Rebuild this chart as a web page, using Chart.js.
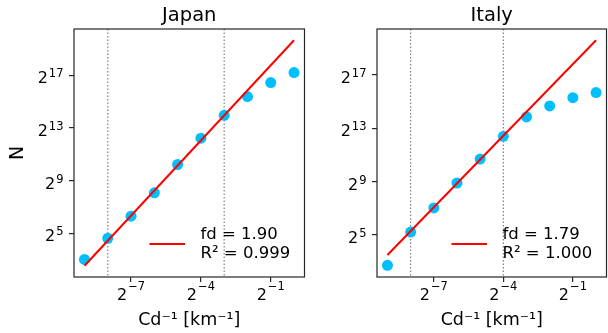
<!DOCTYPE html>
<html>
<head>
<meta charset="utf-8">
<script src="https://cdn.jsdelivr.net/npm/chart.js@4.4.1/dist/chart.umd.min.js"></script>
<style>
    body { margin: 0; width: 608px; height: 333px; overflow: hidden; background: #fff; position: relative; }
    canvas { position: absolute; top: 0; }
    #japan { left: 0; }
    #italy { left: 310px; }
</style>
</head>
<body>
<canvas id="japan" width="310" height="333"></canvas>
<canvas id="italy" width="302" height="333"></canvas>
<script>
// Cd^-1 [km^-1], same for both countries
const cdInv = [1/512, 1/256, 1/128, 1/64, 1/32, 1/16, 1/8, 1/4, 1/2, 1];

// N
const japanN = [8.2, 24.9, 79.3, 271, 1200, 4770, 15900, 42600, 88900, 150500];
const italyN = [6.6, 37.3, 131, 478, 1660, 5400, 14800, 26200, 40300, 52500];

// fitted lines (ends)
const fitX = [1/512, 1];
const japanFit = [5.86, 822700];
const italyFit = [11.3, 800200];

// dotted verticals
const japanVLines = [1/256, 1/8];
const italyVLines = [1/256, 1/16];

const japanLegend = ["fd = 1.90", "R\u00b2 = 0.999"];
const italyLegend = ["fd = 1.79", "R\u00b2 = 1.000"];

// tick exponents (base 2)
const xTickExp = [-7, -4, -1];
const yTickExp = [5, 9, 13, 17];

const FONT = '"DejaVu Sans"';

function expText(e) {
    return String(e).replace("-", "\u2212");
}

const decor = {
    id: "decor",
    beforeDatasetsDraw(chart, args, opts) {
        const { ctx, chartArea: a, scales: { x } } = chart;
        ctx.save();
        ctx.strokeStyle = "#808080";
        ctx.lineWidth = 1.2;
        ctx.setLineDash([1.5, 2]);
        opts.vlines.forEach(v => {
            const px = x.getPixelForValue(v);
            ctx.beginPath();
            ctx.moveTo(px, a.top);
            ctx.lineTo(px, a.bottom);
            ctx.stroke();
        });
        ctx.restore();
    },
    afterDraw(chart, args, opts) {
        const { ctx, chartArea: a, scales: { x, y } } = chart;
        ctx.save();

        // frame
        ctx.strokeStyle = "#262626";
        ctx.lineWidth = 1.2;
        ctx.strokeRect(a.left, a.top, a.right - a.left, a.bottom - a.top);

        // tick labels 2^n
        ctx.fillStyle = "#000";
        ctx.textBaseline = "alphabetic";
        ctx.textAlign = "left";
        const big = "16px " + FONT, small = "11.5px " + FONT;
        const gap = 1;

        x.ticks.forEach(t => {
            const e = expText(Math.round(Math.log2(t.value)));
            ctx.font = big;
            const w1 = ctx.measureText("2").width + gap;
            ctx.font = small;
            const w2 = ctx.measureText(e).width;
            const px = x.getPixelForValue(t.value) - (w1 + w2) / 2;
            const by = a.bottom + 22.5;
            ctx.font = big;
            ctx.fillText("2", px, by);
            ctx.font = small;
            ctx.fillText(e, px + w1, by - 9.5);
        });

        y.ticks.forEach(t => {
            const e = expText(Math.round(Math.log2(t.value)));
            ctx.font = big;
            const w1 = ctx.measureText("2").width + gap;
            ctx.font = small;
            const w2 = ctx.measureText(e).width;
            const right = a.left - 10.5;
            const by = y.getPixelForValue(t.value) + 8;
            ctx.font = big;
            ctx.fillText("2", right - w1 - w2, by);
            ctx.font = small;
            ctx.fillText(e, right - w2, by - 6);
        });

        // legend (single entry, two lines of text)
        ctx.strokeStyle = "#ff0000";
        ctx.lineWidth = 2;
        ctx.beginPath();
        ctx.moveTo(a.right - 155, a.bottom - 33);
        ctx.lineTo(a.right - 119.5, a.bottom - 33);
        ctx.stroke();
        ctx.font = "16.5px " + FONT;
        ctx.fillText(opts.legend[0], a.right - 104, a.bottom - 38);
        ctx.fillText(opts.legend[1], a.right - 104, a.bottom - 19.5);

        ctx.restore();
    }
};

function drawPanel(id, title, values, fit, vlines, legend, yRange, yWidth, padRight, showYTitle) {
    const ctx = document.getElementById(id).getContext("2d");

    new Chart(ctx, {
        type: "scatter",
        data: {
            datasets: [
                {
                    type: "line",
                    data: fitX.map((v, i) => ({ x: v, y: fit[i] })),
                    borderColor: "#ff0000",
                    borderWidth: 2,
                    pointRadius: 0,
                    fill: false
                },
                {
                    data: cdInv.map((v, i) => ({ x: v, y: values[i] })),
                    backgroundColor: "#00bfff",
                    borderWidth: 0,
                    pointRadius: 5.5,
                    pointHoverRadius: 5.5
                }
            ]
        },
        options: {
            responsive: false,
            animation: false,
            devicePixelRatio: 1,
            layout: { padding: { left: 0, right: padRight, top: 0, bottom: 0 } },
            scales: {
                x: {
                    type: "logarithmic",
                    min: Math.pow(2, -9.45),
                    max: Math.pow(2, 0.45),
                    afterBuildTicks: axis => { axis.ticks = xTickExp.map(e => ({ value: Math.pow(2, e) })); },
                    afterFit: axis => { axis.height = 56; },
                    ticks: { display: false },
                    grid: { drawOnChartArea: false, drawTicks: true, tickLength: 5, color: "#262626", lineWidth: 1.2 },
                    border: { display: false },
                    title: {
                        display: true,
                        text: "Cd\u207b\u00b9 [km\u207b\u00b9]",
                        color: "#000",
                        font: { family: "DejaVu Sans", size: 17.5 },
                        padding: { top: 0, bottom: 2 }
                    }
                },
                y: {
                    type: "logarithmic",
                    min: Math.pow(2, yRange[0]),
                    max: Math.pow(2, yRange[1]),
                    afterBuildTicks: axis => { axis.ticks = yTickExp.map(e => ({ value: Math.pow(2, e) })); },
                    afterFit: axis => { axis.width = yWidth; },
                    ticks: { display: false },
                    grid: { drawOnChartArea: false, drawTicks: true, tickLength: 5, color: "#262626", lineWidth: 1.2 },
                    border: { display: false },
                    title: {
                        display: showYTitle,
                        text: "N",
                        color: "#000",
                        font: { family: "DejaVu Sans", size: 19 },
                        padding: { top: 7, bottom: 0 }
                    }
                }
            },
            plugins: {
                legend: { display: false },
                tooltip: { enabled: false },
                title: {
                    display: true,
                    text: title,
                    fullSize: false,
                    color: "#000",
                    font: { family: "DejaVu Sans", size: 19.5, weight: "normal", lineHeight: "23px" },
                    padding: { top: 4, bottom: 2 }
                },
                decor: { vlines, legend }
            }
        },
        plugins: [decor]
    });
}

window.addEventListener("DOMContentLoaded", () => {
    drawPanel("japan", "Japan", japanN, japanFit, japanVLines, japanLegend, [1.7, 20.5], 74, 3, true);
    drawPanel("italy", "Italy", italyN, italyFit, italyVLines, italyLegend, [1.85, 20.45], 67, 2, false);
});
</script>
</body>
</html>
